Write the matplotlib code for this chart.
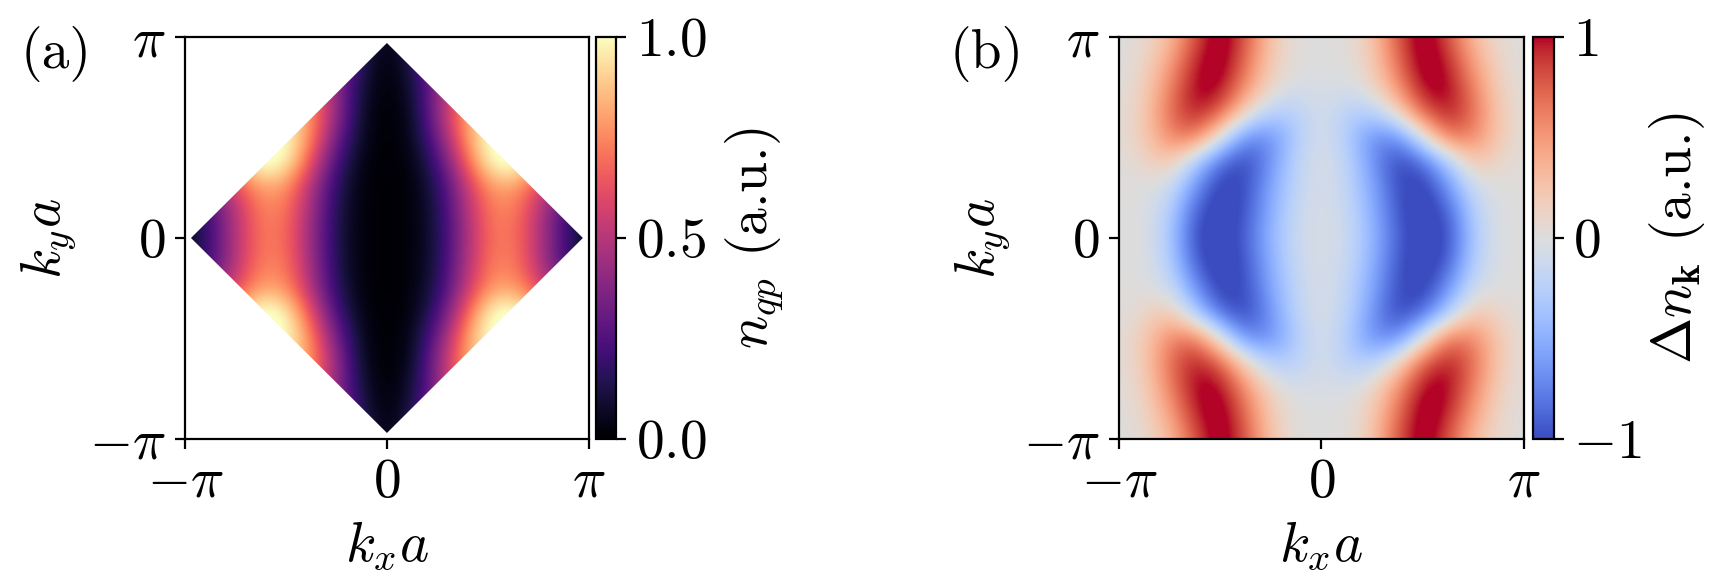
import numpy as np
import matplotlib
matplotlib.use('Agg')
import matplotlib.pyplot as plt
from matplotlib.patches import Polygon

plt.rcParams['font.family'] = 'serif'
plt.rcParams['font.serif'] = ['cmr10']
plt.rcParams['mathtext.fontset'] = 'cm'
plt.rcParams['axes.unicode_minus'] = False
plt.rcParams['font.size'] = 20

# valores, cuadrante kx>=0, ky>=0, paso pi/8
# filas: ky = pi ... 0 ; columnas: kx = 0 ... pi
kx_cuad = np.array([0, 0.125, 0.25, 0.375, 0.5, 0.625, 0.75, 0.875, 1.0]) * np.pi
ky_cuad = np.array([1.0, 0.875, 0.75, 0.625, 0.5, 0.375, 0.25, 0.125, 0]) * np.pi

n_qp_cuad = np.array([
    [0.00, 0.20, 0.45, 0.60, 0.60, 0.55, 0.45, 0.35, 0.25],
    [0.00, 0.14, 0.42, 0.65, 0.75, 0.70, 0.55, 0.40, 0.30],
    [0.00, 0.10, 0.40, 0.70, 0.85, 0.80, 0.65, 0.50, 0.35],
    [0.00, 0.06, 0.42, 0.78, 0.95, 0.90, 0.70, 0.55, 0.40],
    [0.00, 0.05, 0.33, 0.75, 1.05, 1.00, 0.80, 0.55, 0.40],
    [0.00, 0.03, 0.22, 0.62, 1.00, 1.10, 0.85, 0.55, 0.35],
    [0.00, 0.02, 0.15, 0.48, 0.78, 0.80, 0.60, 0.38, 0.20],
    [0.00, 0.02, 0.13, 0.44, 0.72, 0.74, 0.50, 0.22, 0.05],
    [0.00, 0.02, 0.12, 0.42, 0.70, 0.72, 0.50, 0.22, 0.02],
])

dn_cuad = np.array([
    [0.00, 0.00, 0.25, 0.80, 1.15, 0.80, 0.30, 0.05, 0.00],
    [0.00, 0.00, 0.20, 0.70, 1.15, 0.95, 0.45, 0.10, 0.00],
    [-0.03, -0.05, 0.10, 0.55, 1.05, 1.05, 0.60, 0.15, 0.00],
    [-0.04, -0.25, -0.25, 0.15, 0.80, 1.00, 0.70, 0.20, 0.02],
    [-0.04, -0.28, -0.70, -0.70, 0.00, 0.70, 0.60, 0.20, 0.02],
    [-0.03, -0.20, -0.65, -1.05, -0.85, -0.30, 0.25, 0.10, 0.00],
    [-0.03, -0.18, -0.55, -1.00, -1.10, -0.65, -0.10, 0.00, 0.00],
    [-0.03, -0.14, -0.50, -0.95, -1.15, -0.90, -0.25, 0.00, 0.00],
    [-0.03, -0.12, -0.45, -0.90, -1.15, -1.00, -0.30, 0.00, 0.00],
])

borde_diamante = 0.97 * np.pi
ticks_k = [-np.pi, 0, np.pi]
etiquetas_k = [r'$-\pi$', r'$0$', r'$\pi$']


def espejo(q):
    # completar la zona de Brillouin por simetria kx->-kx, ky->-ky
    arriba = np.hstack([q[:, :0:-1], q])
    return np.vstack([arriba, arriba[-2::-1]])


def ejes_k(ax):
    ax.set_xlim(-np.pi, np.pi)
    ax.set_ylim(-np.pi, np.pi)
    ax.set_xticks(ticks_k)
    ax.set_xticklabels(etiquetas_k)
    ax.set_yticks(ticks_k)
    ax.set_yticklabels(etiquetas_k)
    ax.set_xlabel(r'$k_xa$')
    ax.set_ylabel(r'$k_ya$')


h = kx_cuad[1] - kx_cuad[0]
ext = [-np.pi - h / 2, np.pi + h / 2, -np.pi - h / 2, np.pi + h / 2]

fig = plt.figure(figsize=(1717 / 200, 584 / 200), dpi=200)

# panel (a)
ax1 = fig.add_axes([0.1077, 0.2483, 0.2353, 0.6884])
cax1 = fig.add_axes([0.3471, 0.2483, 0.0117, 0.6884])
im1 = ax1.imshow(espejo(n_qp_cuad), extent=ext, origin='upper', cmap='magma',
                 vmin=0, vmax=1, interpolation='bicubic', aspect='auto')
d = borde_diamante
diamante = Polygon([[-d, 0], [0, d], [d, 0], [0, -d]], closed=True,
                   transform=ax1.transData)
im1.set_clip_path(diamante)
ejes_k(ax1)
cb1 = fig.colorbar(im1, cax=cax1)
cb1.set_ticks([0, 0.5, 1])
cb1.set_ticklabels([r'$0.0$', r'$0.5$', r'$1.0$'])
cb1.set_label(r'$n_{qp}$ (a.u.)', labelpad=6)
fig.text(0.012, 0.955, '(a)', ha='left', va='top', fontsize=20)

# panel (b)
ax2 = fig.add_axes([0.6517, 0.2483, 0.2359, 0.6884])
cax2 = fig.add_axes([0.8928, 0.2483, 0.0120, 0.6884])
im2 = ax2.imshow(espejo(dn_cuad), extent=ext, origin='upper', cmap='coolwarm',
                 vmin=-1, vmax=1, interpolation='bicubic', aspect='auto')
ejes_k(ax2)
cb2 = fig.colorbar(im2, cax=cax2)
cb2.set_ticks([-1, 0, 1])
cb2.set_ticklabels([r'$-1$', r'$0$', r'$1$'])
cb2.set_label(r'$\Delta n_{\mathbf{k}}$ (a.u.)', labelpad=2)
fig.text(0.553, 0.955, '(b)', ha='left', va='top', fontsize=20)

fig.savefig('out.png', dpi=200)
